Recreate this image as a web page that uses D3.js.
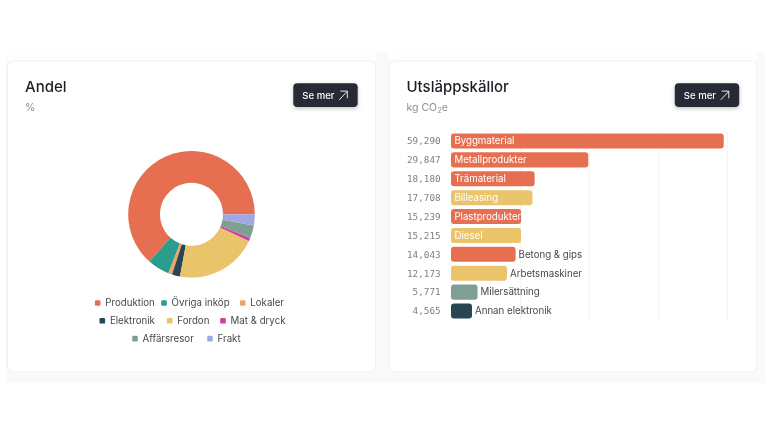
<!DOCTYPE html>
<html>
<head>
<meta charset="utf-8">
<script src="https://cdn.jsdelivr.net/npm/d3@7"></script>
<style>
html,body{margin:0;padding:0;background:#fff;}
svg{display:block;filter:blur(0.45px);}
text{font-family:Inter,"Noto Sans",sans-serif;}
</style>
</head>
<body>
<svg id="chart" width="768" height="432"></svg>
<script>
// donut
var shareNames = ["Produktion","Övriga inköp","Lokaler","Elektronik","Fordon","Mat & dryck","Affärsresor","Frakt"];
var shareValues = [63.4,5.6,1.0,2.05,21.0,0.8,3.3,2.8];
var shareColors = ["#e76f51","#2a9d8f","#f4a261","#264653","#e9c46a","#d13da0","#7f9f94","#a0a8e0"];

// bars
var sourceNames = ["Byggmaterial","Metallprodukter","Trämaterial","Billeasing","Plastprodukter","Diesel","Betong & gips","Arbetsmaskiner","Milersättning","Annan elektronik"];
var sourceValues = [59290,29847,18180,17708,15239,15215,14043,12173,5771,4565];
var sourceGroups = ["Produktion","Produktion","Produktion","Fordon","Produktion","Fordon","Produktion","Fordon","Affärsresor","Elektronik"];
var gridTicks = [0,15000,30000,45000,60000];

var svg = d3.select("#chart");
var colorOf = d3.scaleOrdinal().domain(shareNames).range(shareColors);

// page backdrop, nearly white above the cards
svg.append("rect").attr("x",6).attr("y",52).attr("width",759).attr("height",331).attr("fill","#fafafa");
svg.append("rect").attr("x",7).attr("y",52).attr("width",369).attr("height",9).attr("fill","#fefefe");
svg.append("rect").attr("x",389).attr("y",52).attr("width",368).attr("height",9).attr("fill","#fefefe");

var defs = svg.append("defs");
var shadow = defs.append("filter").attr("id","btnShadow").attr("x","-20%").attr("y","-30%").attr("width","140%").attr("height","170%");
shadow.append("feDropShadow").attr("dx",0).attr("dy",1.5).attr("stdDeviation",2).attr("flood-color","#000").attr("flood-opacity",0.25);

function card(x, title, sub){
    var g = svg.append("g").attr("transform","translate("+x+",61)");
    g.append("rect").attr("x",0).attr("y",0).attr("width",368).attr("height",311).attr("rx",6)
        .attr("fill","#fff").attr("stroke","#efefef").attr("stroke-width",1);
    g.append("text").attr("x",17.5).attr("y",31).attr("font-size",15).attr("font-weight",500).attr("fill","#1d1f26").text(title);
    var s = g.append("text").attr("x",17.5).attr("y",50).attr("font-size",10.5).attr("fill","#8b8e94");
    sub(s);
    // button
    var b = g.append("g").attr("transform","translate(285.8,22.3)");
    b.append("rect").attr("width",64.4).attr("height",23.7).attr("rx",4).attr("fill","#272a36").attr("filter","url(#btnShadow)");
    b.append("text").attr("x",9).attr("y",15.6).attr("font-size",9.6).attr("font-weight",500).attr("fill","#fff").text("Se mer");
    b.append("path").attr("d","M46 16.5L54 8M47 7.8H54V15").attr("fill","none").attr("stroke","#fff").attr("stroke-width",0.9);
}
card(7.5,"Andel",function(s){ s.text("%"); });
card(389,"Utsläppskällor",function(s){
    s.append("tspan").text("kg CO");
    s.append("tspan").attr("font-size",7.5).attr("dy",2).text("2");
    s.append("tspan").attr("dy",-2).text("e");
});

// donut
var pie = d3.pie().sort(null).startAngle(Math.PI/2).endAngle(Math.PI/2-2*Math.PI);
var arc = d3.arc().innerRadius(31.5).outerRadius(63.3);
svg.append("g").attr("transform","translate(191.5,214.3)")
    .selectAll("path").data(pie(shareValues)).enter().append("path")
    .attr("d",arc)
    .attr("fill",function(d,i){return shareColors[i];});

// legend, three centred rows
var legendX = [97.7,164,242.7,102.3,169.7,223,135,210];
var legendY = d3.scalePoint().domain([0,1,2]).range([303,338.6]);
var legend = svg.append("g").selectAll("g").data(shareNames).enter().append("g")
    .attr("transform",function(d,i){return "translate("+legendX[i]+","+legendY(Math.min(2,Math.floor(i/3)))+")";});
legend.append("rect").attr("x",-2.8).attr("y",-2.8).attr("width",5.6).attr("height",5.6).attr("rx",1.2)
    .attr("fill",function(d){return colorOf(d);});
legend.append("text").attr("x",7.6).attr("y",3.4).attr("font-size",9.7).attr("fill","#45494b").text(function(d){return d;});

// bars
var x = d3.scaleLinear().domain([0,60000]).range([451,727]);
var y = d3.scaleBand().domain(sourceNames).range([131.6,320.4]).paddingInner(0.2).paddingOuter(0.1);

var grid = svg.append("g").attr("transform","translate(0,320.4)")
    .call(d3.axisBottom(x).tickValues(gridTicks).tickSize(-188.8).tickFormat(""));
grid.select(".domain").remove();
grid.selectAll("line").attr("stroke","#f4f4f4");

svg.append("g").selectAll("rect").data(sourceNames).enter().append("rect")
    .attr("x",x(0))
    .attr("y",function(d){return y(d);})
    .attr("width",function(d,i){return x(sourceValues[i])-x(0);})
    .attr("height",y.bandwidth())
    .attr("rx",3)
    .attr("fill",function(d,i){return colorOf(sourceGroups[i]);});

svg.append("g").selectAll("text").data(sourceNames).enter().append("text")
    .attr("x",440.6)
    .attr("y",function(d){return y(d)+y.bandwidth()/2+3.4;})
    .attr("text-anchor","end")
    .attr("font-size",9.3)
    .attr("fill","#7c7f84")
    .style("font-family","'DejaVu Sans Mono',monospace")
    .text(function(d,i){return d3.format(",")(sourceValues[i]);});

// label goes inside the bar when it fits
svg.append("g").selectAll("text").data(sourceNames).enter().append("text")
    .attr("x",function(d,i){return sourceValues[i]>15000 ? x(0)+3.4 : x(sourceValues[i])+3;})
    .attr("y",function(d){return y(d)+y.bandwidth()/2+3.4;})
    .attr("font-size",9.7)
    .attr("fill",function(d,i){return sourceValues[i]>15000 ? "#fff" : "#45494b";})
    .text(function(d){return d;});
</script>
</body>
</html>
